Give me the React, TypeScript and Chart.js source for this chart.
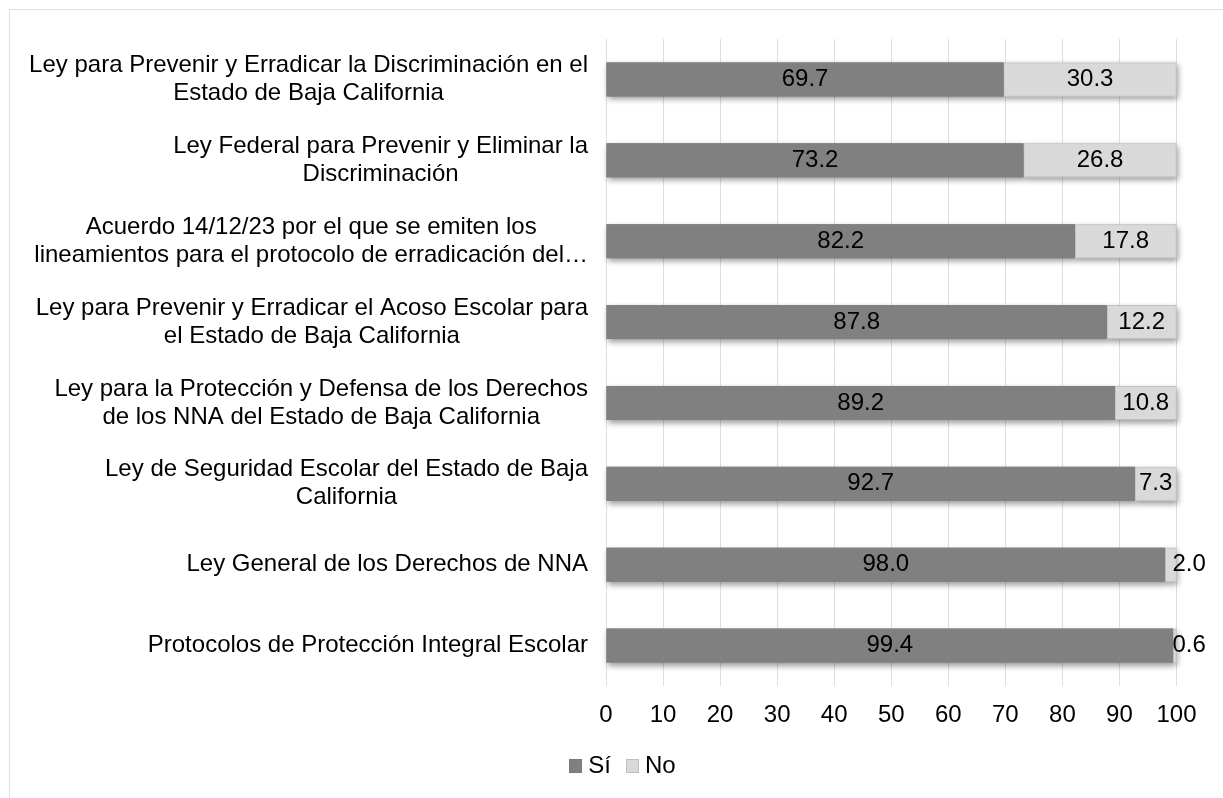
import React, { useEffect, useRef } from "react";
import { Chart, registerables } from "chart.js";

Chart.register(...registerables);

// ---------- data ----------
const categories: string[][] = [
  ["Ley para Prevenir y Erradicar la Discriminación en el", "Estado de Baja California"],
  ["Ley Federal para Prevenir y Eliminar la", "Discriminación"],
  ["Acuerdo 14/12/23 por el que se emiten los", "lineamientos para el protocolo de erradicación del…"],
  ["Ley para Prevenir y Erradicar el Acoso Escolar para", "el Estado de Baja California"],
  ["Ley para la Protección y Defensa de los Derechos", "de los NNA del Estado de Baja California"],
  ["Ley de Seguridad Escolar del Estado de Baja", "California"],
  ["Ley General de los Derechos de NNA"],
  ["Protocolos de Protección Integral Escolar"],
];
const siValues = [69.7, 73.2, 82.2, 87.8, 89.2, 92.7, 98.0, 99.4];
const noValues = [30.3, 26.8, 17.8, 12.2, 10.8, 7.3, 2.0, 0.6];
const seriesNames = ["Sí", "No"];
const xMin = 0;
const xMax = 100;
const xStep = 10;

// ---------- style ----------
const FONT = "'Liberation Sans', Arial, sans-serif";
const FONT_SIZE = 24;
const SI_COLOR = "#808080";
const NO_COLOR = "#d9d9d9";
const NO_BORDER = "#bfbfbf";
const GRID_COLOR = "#d6e0ef";
const LABEL_LINE = 28;

function makeBox(fill: string, stroke: string) {
  const c = document.createElement("canvas");
  c.width = 13;
  c.height = 14;
  const g = c.getContext("2d")!;
  g.fillStyle = fill;
  g.fillRect(0, 0, 13, 14);
  g.strokeStyle = stroke;
  g.lineWidth = 1;
  g.strokeRect(0.5, 0.5, 12, 13);
  return c;
}

const shadowPlugin = {
  id: "barShadow",
  beforeDatasetsDraw(chart: any) {
    const ctx = chart.ctx;
    ctx.save();
    ctx.shadowColor = "rgba(0,0,0,0.4)";
    ctx.shadowBlur = 6;
    ctx.shadowOffsetX = 1;
    ctx.shadowOffsetY = 3;
    chart.data.datasets.forEach((ds: any, di: number) => {
      const meta = chart.getDatasetMeta(di);
      meta.data.forEach((el: any) => {
        const { x, y, base, height } = el.getProps(["x", "y", "base", "height"], true);
        ctx.fillStyle = ds.backgroundColor;
        ctx.fillRect(Math.min(x, base), y - height / 2, Math.abs(x - base), height);
      });
    });
    ctx.restore();
  },
};

const valueLabelPlugin = {
  id: "valueLabels",
  afterDatasetsDraw(chart: any) {
    const ctx = chart.ctx;
    ctx.save();
    ctx.font = `${FONT_SIZE}px ${FONT}`;
    ctx.fillStyle = "#000";
    ctx.textBaseline = "middle";
    chart.data.datasets.forEach((ds: any, di: number) => {
      const meta = chart.getDatasetMeta(di);
      meta.data.forEach((el: any, i: number) => {
        const { x, y, base } = el.getProps(["x", "y", "base"], true);
        const txt = Number(ds.data[i]).toFixed(1);
        const w = ctx.measureText(txt).width;
        const seg = Math.abs(x - base);
        if (w + 4 > seg) {
          ctx.textAlign = "left";
          ctx.fillText(txt, Math.max(x, base) - 4, y);
        } else {
          ctx.textAlign = "center";
          ctx.fillText(txt, (x + base) / 2, y);
        }
      });
    });
    ctx.restore();
  },
};

const categoryLabelPlugin = {
  id: "categoryLabels",
  afterDraw(chart: any) {
    const ctx = chart.ctx;
    const ys = chart.scales.y;
    const right = chart.chartArea.left - 18;
    ctx.save();
    ctx.font = `${FONT_SIZE}px ${FONT}`;
    ctx.fillStyle = "#000";
    ctx.textAlign = "center";
    ctx.textBaseline = "middle";
    categories.forEach((lines, i) => {
      const cy = ys.getPixelForValue(i);
      const maxW = Math.max(...lines.map((l) => ctx.measureText(l).width));
      const cx = right - maxW / 2;
      lines.forEach((l, j) => {
        ctx.fillText(l, cx, cy + (j - (lines.length - 1) / 2) * LABEL_LINE);
      });
    });
    ctx.restore();
  },
};

export default function App() {
  const ref = useRef<HTMLCanvasElement | null>(null);

  useEffect(() => {
    document.documentElement.style.overflow = "hidden";
    document.body.style.overflow = "hidden";
    const boxes = [makeBox(SI_COLOR, "#7a7a7a"), makeBox(NO_COLOR, NO_BORDER)];
    const chart = new Chart(ref.current!, {
      type: "bar",
      data: {
        labels: categories.map((c) => c.join(" ")),
        datasets: [
          {
            label: seriesNames[0],
            data: siValues,
            backgroundColor: SI_COLOR,
            borderWidth: 0,
            barPercentage: 0.42,
            categoryPercentage: 1,
          },
          {
            label: seriesNames[1],
            data: noValues,
            backgroundColor: NO_COLOR,
            borderColor: NO_BORDER,
            borderWidth: 1,
            borderSkipped: false,
            barPercentage: 0.42,
            categoryPercentage: 1,
          },
        ],
      },
      options: {
        indexAxis: "y",
        responsive: false,
        animation: false,
        layout: { padding: { top: 29, left: 64.5, right: 46.5, bottom: 10 } },
        scales: {
          x: {
            stacked: true,
            min: xMin,
            max: xMax,
            ticks: {
              stepSize: xStep,
              autoSkip: false,
              maxRotation: 0,
              color: "#000",
              padding: 14.6,
              font: { family: FONT, size: FONT_SIZE },
            },
            grid: { color: GRID_COLOR, lineWidth: 1, drawTicks: false },
            border: { display: false },
            afterFit: (s: any) => {
              s.height = 47;
            },
          },
          y: {
            stacked: true,
            ticks: { display: false },
            grid: { display: false },
            border: { display: false },
            afterFit: (s: any) => {
              s.width = 531.5;
            },
          },
        },
        plugins: {
          tooltip: { enabled: false },
          legend: {
            position: "bottom",
            labels: {
              usePointStyle: true,
              pointStyleWidth: 1,
              padding: 21,
              color: "#000",
              font: { family: FONT, size: FONT_SIZE },
              generateLabels: (c: any) => {
                const items = Chart.defaults.plugins.legend.labels.generateLabels(c);
                return items.map((it: any) => ({ ...it, pointStyle: boxes[it.datasetIndex] }));
              },
            },
          },
        },
      } as any,
      plugins: [shadowPlugin, valueLabelPlugin, categoryLabelPlugin],
    });
    return () => chart.destroy();
  }, []);

  return (
    <div
      style={{
        position: "absolute",
        left: 9,
        top: 9,
        width: 1213,
        height: 788,
        borderLeft: "1px solid #d9e1ee",
        borderTop: "1px solid #d9e1ee",
        background: "#fff",
      }}
    >
      <canvas ref={ref} width={1213} height={788} style={{ display: "block" }} />
    </div>
  );
}
